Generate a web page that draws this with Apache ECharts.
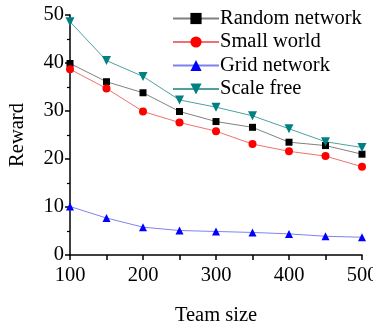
<!DOCTYPE html>
<html><head><meta charset="utf-8">
<script src="https://cdn.jsdelivr.net/npm/echarts@6/dist/echarts.min.js"></script>
<style>html,body{margin:0;padding:0;background:#fff}#c{width:373px;height:327px}</style>
</head><body><div id="c"></div>
<script>
const teamSizes = [100, 150, 200, 250, 300, 350, 400, 450, 500];
const randomNetwork = [39.9, 36.1, 33.8, 29.9, 27.8, 26.6, 23.5, 22.8, 21.0];
const smallWorld = [38.7, 34.7, 29.9, 27.6, 25.8, 23.1, 21.6, 20.6, 18.4];
const gridNetwork = [10.1, 7.7, 5.8, 5.1, 4.9, 4.7, 4.4, 3.9, 3.7];
const scaleFree = [48.6, 40.5, 37.2, 32.3, 30.8, 29.0, 26.3, 23.6, 22.4];
const seriesNames = ['Random network', 'Small world', 'Grid network', 'Scale free'];

const pairs = arr => teamSizes.map((x, i) => [x, arr[i]]);
const font = 'Liberation Serif';
const chart = echarts.init(document.getElementById('c'));
function mk(name, data, lineColor, markColor, symbol, size, rotate) {
  return {
    name, type: 'line', data: pairs(data), symbol, symbolSize: size, symbolRotate: rotate || 0,
    lineStyle: { color: lineColor, width: 1 },
    itemStyle: { color: markColor },
    emphasis: { disabled: true }, animation: false
  };
}
chart.setOption({
  animation: false,
  textStyle: { fontFamily: font },
  grid: { left: 70, right: 11, top: 15, bottom: 72, containLabel: false, outerBoundsMode: 'none' },
  legend: {
    orient: 'vertical', left: 172, top: 8, padding: 0, itemGap: 2.5, itemWidth: 46, itemHeight: 14,
    textStyle: { fontFamily: font, fontSize: 20.5, color: '#000', lineHeight: 20, padding: [0, 0, 0, -4] },
    data: seriesNames
  },
  xAxis: {
    type: 'value', min: 100, max: 500, interval: 100,
    name: 'Team size', nameLocation: 'middle', nameGap: 50,
    nameTextStyle: { fontFamily: font, fontSize: 20.5, color: '#000' },
    axisLine: { lineStyle: { color: '#000', width: 1.5 } },
    axisTick: { length: 5, lineStyle: { color: '#000', width: 1.5 } },
    minorTick: { show: true, splitNumber: 2, length: 5, lineStyle: { color: '#000', width: 1.5 } },
    axisLabel: { fontFamily: font, fontSize: 20.5, color: '#000', margin: 10, showMaxLabel: true },
    splitLine: { show: false }
  },
  yAxis: {
    type: 'value', min: 0, max: 50, interval: 10,
    name: 'Reward', nameLocation: 'middle', nameGap: 42,
    nameTextStyle: { fontFamily: font, fontSize: 20.5, color: '#000' },
    axisLine: { show: true, lineStyle: { color: '#000', width: 1.5 } },
    axisTick: { show: true, length: 5, lineStyle: { color: '#000', width: 1.5 } },
    minorTick: { show: true, splitNumber: 2, length: 3, lineStyle: { color: '#000', width: 1.2 } },
    axisLabel: { fontFamily: font, fontSize: 20.5, color: '#000', margin: 6 },
    splitLine: { show: false }
  },
  series: [
    mk(seriesNames[0], randomNetwork, '#808080', '#000000', 'rect', 7),
    mk(seriesNames[1], smallWorld, '#f07070', '#ff0000', 'circle', 8),
    mk(seriesNames[2], gridNetwork, '#8080f0', '#0000ff', 'triangle', 8),
    mk(seriesNames[3], scaleFree, '#50a0a0', '#008080', 'triangle', 9, 180)
  ]
});
</script></body></html>
